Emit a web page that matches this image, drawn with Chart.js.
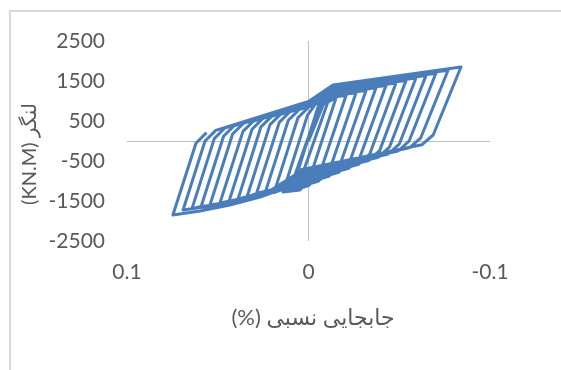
<!DOCTYPE html>
<html>
<head>
<meta charset="utf-8">
<title>Hysteresis</title>
<script src="https://cdn.jsdelivr.net/npm/chart.js"></script>
<style>
  html, body { margin: 0; background: #fff; }
  #frame { position: absolute; left: 9px; top: 10px; width: 600px; height: 400px; border: 2px solid #d9d9d9; }
  #chart { position: absolute; left: 0; top: 0; }
</style>
</head>
<body>
<div id="frame"></div>
<canvas id="chart" width="561" height="370"></canvas>
<script>
var drift = [
  0, -0.0052, -0.0096, -0.0063, 0.0041, 0.0080, 0.0047, -0.0074, -0.0118, -0.0074, 0.0069, 0.0102,
  -0.0019, -0.0063, -0.0152, -0.0003, 0.0047, 0.0140,
  0.0006, -0.0041, -0.0135, -0.0207, -0.0059, 0.0000, 0.0047, 0.0129, 0.0190,
  0.0058, 0.0000, -0.0135, -0.0262, -0.0115, -0.0056, 0.0047, 0.0129, 0.0240,
  0.0111, 0.0052, 0.0000, -0.0135, -0.0317, -0.0171, -0.0111, 0.0047, 0.0129, 0.0289,
  0.0161, 0.0103, 0.0000, -0.0135, -0.0372, -0.0227, -0.0167, 0.0047, 0.0267, 0.0339,
  0.0212, 0.0153, 0.0000, -0.0135, -0.0427, -0.0282, -0.0222, 0.0047, 0.0267, 0.0388,
  0.0262, 0.0203, 0.0000, -0.0135, -0.0482, -0.0337, -0.0277, 0.0047, 0.0267, 0.0438,
  0.0311, 0.0253, 0.0000, -0.0135, -0.0537, -0.0392, -0.0331, 0.0047, 0.0267, 0.0433, 0.0488,
  0.0361, 0.0303, 0.0000, -0.0135, -0.0592, -0.0446, -0.0385, 0.0047, 0.0267, 0.0433, 0.0543,
  0.0418, 0.0359, 0.0000, -0.0135, -0.0647, -0.0500, -0.0439, 0.0047, 0.0267, 0.0433, 0.0592,
  0.0468, 0.0410, 0.0000, -0.0135, -0.0702, -0.0554, -0.0493, 0.0047, 0.0267, 0.0433, 0.0598, 0.0642,
  0.0519, 0.0461, 0.0000, -0.0135, -0.0769, -0.0618, -0.0556, 0.0047, 0.0267, 0.0433, 0.0598, 0.0691,
  0.0570, 0.0511, 0.0000, -0.0135, -0.0840, -0.0687, -0.0624, 0.0047, 0.0129, 0.0267, 0.0433, 0.0598, 0.0747,
  0.0620, 0.0562
];
var moment = [
  0, 575, 1075, 1000, -500, -1075, -1000, 550, 1125, 1050, -775, -1200,
  325, 875, 1080, -975, -1225, -1275,
  640, 940, 1100, 1140, -850, -1115, -1180, -1190, -1290,
  580, 845, 1130, 1205, -740, -1000, -1145, -1130, -1310,
  520, 785, 855, 1160, 1265, -625, -885, -1100, -1100, -1350,
  465, 730, 870, 1185, 1330, -520, -780, -1060, -1285, -1400,
  410, 670, 885, 1215, 1390, -420, -680, -1015, -1310, -1450,
  355, 615, 900, 1240, 1450, -330, -580, -975, -1335, -1505,
  295, 560, 915, 1270, 1510, -240, -490, -930, -1350, -1500, -1550,
  240, 500, 930, 1295, 1575, -155, -405, -890, -1365, -1525, -1600,
  175, 440, 945, 1320, 1635, -80, -325, -850, -1375, -1550, -1645,
  120, 380, 960, 1350, 1695, -5, -250, -810, -1390, -1560, -1640, -1690,
  60, 325, 975, 1380, 1770, 75, -170, -770, -1400, -1575, -1665, -1725,
  0, 265, 990, 1400, 1850, 150, -95, -725, -1175, -1400, -1600, -1750, -1850,
  -55, 210
];
var xTicks = [-0.1, 0, 0.1];
var yTicks = [-2500, -1500, -500, 500, 1500, 2500];
var xTitle = '(%) جابجایی نسبی';
var yTitle = '(KN.M) لنگر';

var grey = '#595959';
var tickFont = { family: 'Lato, "DejaVu Sans", sans-serif', size: 21 };

// axis titles drawn by hand so they sit where the original has them
var axisTitles = {
  id: 'axisTitles',
  afterDraw: function (chart) {
    var c = chart.ctx;
    c.save();
    c.fillStyle = grey;
    c.textAlign = 'center';
    c.textBaseline = 'middle';
    c.font = '22px Lato, "DejaVu Sans", sans-serif';
    c.fillText(xTitle, 313, 318);
    c.font = '20px Lato, "DejaVu Sans", sans-serif';
    c.translate(30, 154);
    c.rotate(-Math.PI / 2);
    c.fillText(yTitle, 0, 0);
    c.restore();
  }
};

function zeroOnly(c) {
  return c.tick && c.tick.value === 0 ? '#bfbfbf' : 'rgba(0,0,0,0)';
}

new Chart(document.getElementById('chart'), {
  type: 'scatter',
  data: {
    datasets: [{
      data: drift.map(function (x, i) { return { x: x, y: moment[i] }; }),
      showLine: true,
      borderColor: '#4a7ebb',
      borderWidth: 3,
      borderJoinStyle: 'round',
      pointRadius: 0,
      tension: 0
    }]
  },
  options: {
    responsive: false,
    animation: false,
    devicePixelRatio: 1,
    layout: { padding: { left: 10, top: 41, right: 71, bottom: 0 } },
    plugins: { legend: { display: false }, tooltip: { enabled: false } },
    scales: {
      x: {
        type: 'linear',
        reverse: true,
        min: -0.1,
        max: 0.1,
        afterBuildTicks: function (s) { s.ticks = xTicks.map(function (v) { return { value: v }; }); },
        afterFit: function (s) { s.height = 129; },
        border: { display: false },
        grid: { drawTicks: false, color: zeroOnly, lineWidth: 1 },
        ticks: { padding: 19, color: grey, font: tickFont, maxRotation: 0, callback: function (v) { return String(v); } }
      },
      y: {
        min: -2500,
        max: 2500,
        afterBuildTicks: function (s) {
          s.ticks = yTicks.concat([0]).sort(function (a, b) { return a - b; }).map(function (v) { return { value: v }; });
        },
        afterFit: function (s) { s.width = 117; },
        border: { display: false },
        grid: { drawTicks: false, color: zeroOnly, lineWidth: 1 },
        ticks: { padding: 22, color: grey, font: tickFont, callback: function (v) { return v === 0 ? '' : String(v); } }
      }
    }
  },
  plugins: [axisTitles]
});
</script>
</body>
</html>
